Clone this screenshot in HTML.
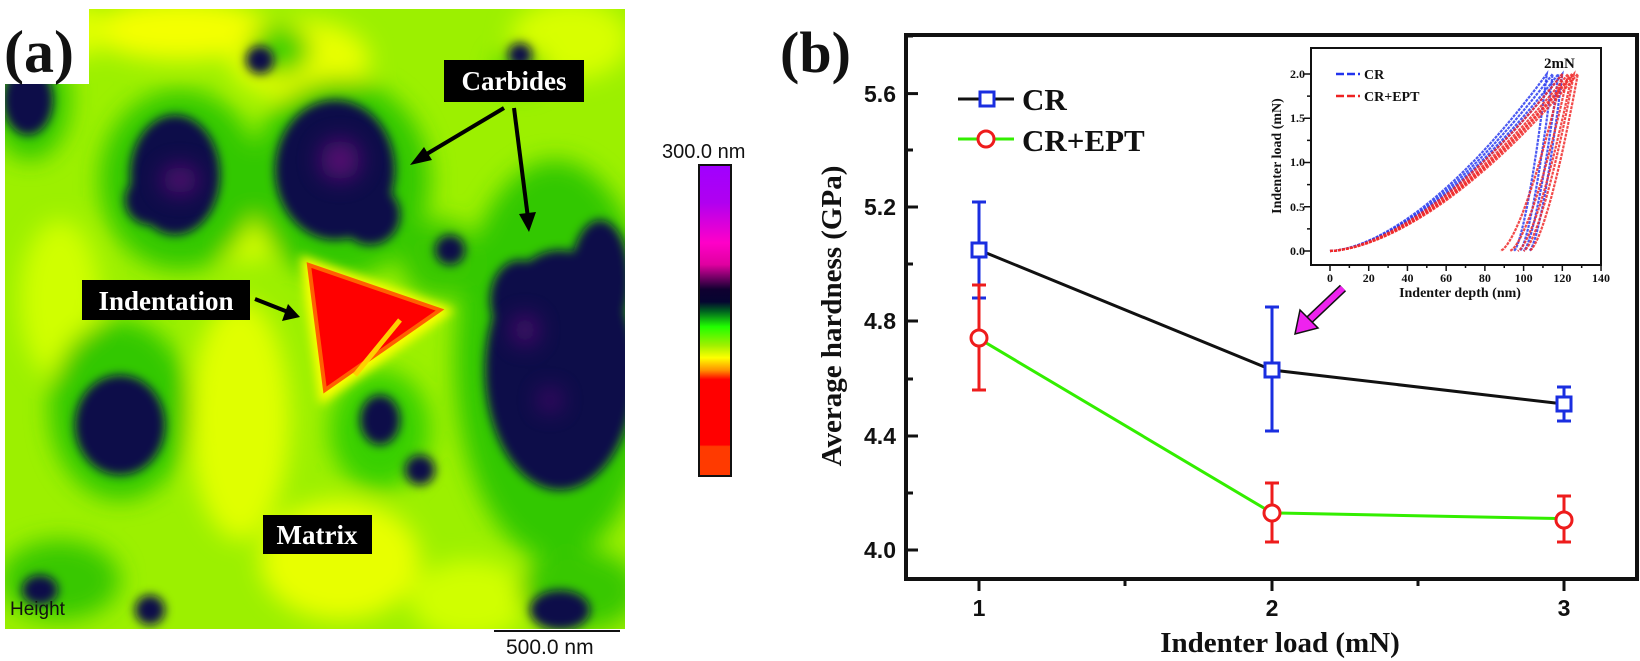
<!DOCTYPE html>
<html><head><meta charset="utf-8"><style>
html,body{margin:0;padding:0;background:#fff;}
svg{display:block;}
.tk{font-family:"Liberation Sans",sans-serif;font-weight:bold;font-size:23px;fill:#111;}
.itk{font-family:"Liberation Serif",serif;font-weight:bold;font-size:12px;fill:#111;}
.lbl{font-family:"Liberation Serif",serif;font-weight:bold;fill:#111;}
.box{font-family:"Liberation Serif",serif;font-weight:bold;font-size:27px;fill:#fff;}
</style></head><body>
<svg width="1640" height="661" viewBox="0 0 1640 661" xmlns="http://www.w3.org/2000/svg">
<defs>
<clipPath id="img"><rect x="5" y="9" width="620" height="620"/></clipPath>
<filter id="b12" x="-50%" y="-50%" width="200%" height="200%"><feGaussianBlur stdDeviation="12"/></filter>
<filter id="b5" x="-50%" y="-50%" width="200%" height="200%"><feGaussianBlur stdDeviation="5"/></filter>
<filter id="b3" x="-50%" y="-50%" width="200%" height="200%"><feGaussianBlur stdDeviation="3"/></filter>
<linearGradient id="cb" x1="0" y1="0" x2="0" y2="1">
<stop offset="0" stop-color="#a000ff"/><stop offset="0.12" stop-color="#b000f0"/>
<stop offset="0.25" stop-color="#ff00c8"/><stop offset="0.32" stop-color="#e000a0"/>
<stop offset="0.40" stop-color="#100030"/><stop offset="0.44" stop-color="#050530"/>
<stop offset="0.47" stop-color="#006020"/><stop offset="0.52" stop-color="#20ff00"/>
<stop offset="0.58" stop-color="#a0f000"/><stop offset="0.62" stop-color="#ffff00"/>
<stop offset="0.66" stop-color="#ff9000"/><stop offset="0.69" stop-color="#ff0000"/>
<stop offset="0.90" stop-color="#ff0000"/><stop offset="0.905" stop-color="#ff3a00"/>
<stop offset="1" stop-color="#ff3a00"/></linearGradient>
</defs>

<!-- AFM map -->
<g clip-path="url(#img)">
<rect x="5" y="9" width="620" height="620" fill="#9cf000"/>
<g filter="url(#b12)">
<ellipse cx="180" cy="30" rx="90" ry="30" fill="#f4ff00"/>
<ellipse cx="300" cy="60" rx="70" ry="40" fill="#e8ff00"/>
<ellipse cx="570" cy="40" rx="60" ry="40" fill="#d8ff00"/>
<ellipse cx="60" cy="300" rx="40" ry="80" fill="#d0ff00"/>
<ellipse cx="240" cy="420" rx="50" ry="120" fill="#e0ff00"/>
<ellipse cx="340" cy="560" rx="80" ry="60" fill="#e8ff00"/>
<ellipse cx="470" cy="600" rx="60" ry="40" fill="#d0ff00"/>
<ellipse cx="60" cy="30" rx="50" ry="30" fill="#e0ff00"/>
<ellipse cx="240" cy="230" rx="60" ry="30" fill="#d8ff00"/>
<ellipse cx="180" cy="180" rx="80" ry="90" fill="#30c800"/>
<ellipse cx="340" cy="180" rx="90" ry="100" fill="#30c800"/>
<ellipse cx="555" cy="360" rx="100" ry="200" fill="#30c800"/>
<ellipse cx="120" cy="410" rx="70" ry="90" fill="#30c800"/>
<ellipse cx="30" cy="100" rx="40" ry="60" fill="#30c800"/>
<ellipse cx="380" cy="430" rx="50" ry="60" fill="#38d000"/>
<ellipse cx="60" cy="580" rx="60" ry="40" fill="#38c800"/>
<ellipse cx="580" cy="590" rx="60" ry="40" fill="#38c800"/>
<ellipse cx="280" cy="50" rx="30" ry="25" fill="#40d000"/>
<ellipse cx="520" cy="70" rx="25" ry="20" fill="#40d000"/>
<ellipse cx="440" cy="260" rx="40" ry="40" fill="#38c800"/>
</g>
<polygon points="300,255 455,310 320,405" fill="#ffff00" filter="url(#b5)"/>
<g filter="url(#b5)" fill="#0c0c48">
<ellipse cx="28" cy="100" rx="25" ry="35"/>
<ellipse cx="175" cy="175" rx="45" ry="60"/>
<ellipse cx="150" cy="200" rx="25" ry="25"/>
<ellipse cx="335" cy="170" rx="60" ry="70"/>
<ellipse cx="370" cy="215" rx="30" ry="30"/>
<ellipse cx="560" cy="370" rx="75" ry="120"/>
<ellipse cx="520" cy="300" rx="30" ry="40"/>
<ellipse cx="600" cy="280" rx="30" ry="60"/>
<ellipse cx="120" cy="425" rx="45" ry="50"/>
<ellipse cx="115" cy="440" rx="25" ry="20"/>
<ellipse cx="260" cy="60" rx="14" ry="14"/>
<ellipse cx="520" cy="55" rx="12" ry="12"/>
<ellipse cx="380" cy="420" rx="20" ry="25"/>
<ellipse cx="420" cy="470" rx="15" ry="15"/>
<ellipse cx="150" cy="610" rx="15" ry="15"/>
<ellipse cx="40" cy="590" rx="18" ry="15"/>
<ellipse cx="560" cy="610" rx="30" ry="20"/>
<ellipse cx="450" cy="250" rx="15" ry="15"/>
</g>
<g filter="url(#b12)" fill="#701080" opacity="0.8">
<ellipse cx="180" cy="180" rx="18" ry="14"/>
<ellipse cx="340" cy="160" rx="20" ry="20"/>
<ellipse cx="525" cy="330" rx="12" ry="14"/>
<ellipse cx="550" cy="400" rx="10" ry="10"/>
</g>
<polygon points="309,265 440,310 325,390" fill="#ff0000" stroke="#ff6000" stroke-width="4"/>
<line x1="355" y1="375" x2="400" y2="320" stroke="#ffd000" stroke-width="5"/>
<rect x="0" y="0" width="89" height="84" fill="#fff"/>
</g>
<text x="4" y="72" class="lbl" font-size="60">(a)</text>
<text x="10" y="615" font-family="Liberation Sans,sans-serif" font-size="19" fill="#111">Height</text>
<line x1="494" y1="631" x2="620" y2="631" stroke="#111" stroke-width="2"/>
<text x="506" y="654" font-family="Liberation Sans,sans-serif" font-size="21" fill="#111">500.0 nm</text>
<rect x="444" y="60" width="140" height="42" fill="#000"/>
<text x="514" y="90" text-anchor="middle" class="box">Carbides</text>
<rect x="82" y="280" width="168" height="40" fill="#000"/>
<text x="166" y="310" text-anchor="middle" class="box">Indentation</text>
<rect x="263" y="515" width="109" height="39" fill="#000"/>
<text x="317" y="544" text-anchor="middle" class="box">Matrix</text>
<g stroke="#000" stroke-width="4" fill="#000">
<line x1="504" y1="108" x2="420" y2="158"/>
<polygon points="410,165 424,147 432,160" stroke="none"/>
<line x1="514" y1="108" x2="528" y2="218"/>
<polygon points="529,232 519,214 536,212" stroke="none"/>
<line x1="255" y1="299" x2="288" y2="312"/>
<polygon points="300,317 282,321 288,304" stroke="none"/>
</g>
<text x="662" y="158" font-family="Liberation Sans,sans-serif" font-size="20" fill="#111">300.0 nm</text>
<rect x="699" y="165" width="32" height="311" fill="url(#cb)" stroke="#111" stroke-width="2"/>

<!-- Panel b -->
<text x="780" y="72" class="lbl" font-size="58">(b)</text>
<rect x="906" y="35" width="731" height="544" fill="none" stroke="#111" stroke-width="4"/>
<g stroke="#111" stroke-width="3">
<line x1="906" y1="550" x2="918" y2="550"/><line x1="906" y1="436" x2="918" y2="436"/>
<line x1="906" y1="321" x2="918" y2="321"/><line x1="906" y1="207" x2="918" y2="207"/>
<line x1="906" y1="93.6" x2="918" y2="93.6"/>
<line x1="906" y1="493" x2="913" y2="493"/><line x1="906" y1="379" x2="913" y2="379"/>
<line x1="906" y1="264" x2="913" y2="264"/><line x1="906" y1="150" x2="913" y2="150"/>
<line x1="906" y1="36" x2="913" y2="36"/>
<line x1="979" y1="579" x2="979" y2="591"/><line x1="1272" y1="579" x2="1272" y2="591"/>
<line x1="1564" y1="579" x2="1564" y2="591"/>
<line x1="1125" y1="579" x2="1125" y2="586"/><line x1="1418" y1="579" x2="1418" y2="586"/>
</g>
<g class="tk" text-anchor="end">
<text x="896" y="558">4.0</text><text x="896" y="444">4.4</text>
<text x="896" y="329">4.8</text><text x="896" y="215">5.2</text>
<text x="896" y="102">5.6</text>
</g>
<g class="tk" text-anchor="middle">
<text x="979" y="616">1</text><text x="1272" y="616">2</text><text x="1564" y="616">3</text>
</g>
<text x="1280" y="652" text-anchor="middle" class="lbl" font-size="29">Indenter load (mN)</text>
<text transform="translate(841,316) rotate(-90)" text-anchor="middle" class="lbl" font-size="29">Average hardness (GPa)</text>

<polyline points="979,250 1272,370 1564,404" fill="none" stroke="#111" stroke-width="3"/>
<polyline points="979,338.7 1272,512.9 1564,518.6" fill="none" stroke="#33ee00" stroke-width="3"/>
<g stroke="#1a2ee0" stroke-width="3" fill="none">
<line x1="979" y1="202" x2="979" y2="298"/><line x1="972" y1="202" x2="986" y2="202"/><line x1="972" y1="298" x2="986" y2="298"/>
<line x1="1272" y1="307" x2="1272" y2="431"/><line x1="1265" y1="307" x2="1279" y2="307"/><line x1="1265" y1="431" x2="1279" y2="431"/>
<line x1="1564" y1="387" x2="1564" y2="421"/><line x1="1557" y1="387" x2="1571" y2="387"/><line x1="1557" y1="421" x2="1571" y2="421"/>
<rect x="972" y="243" width="14" height="14" fill="#fff"/>
<rect x="1265" y="363" width="14" height="14" fill="#fff"/>
<rect x="1557" y="397" width="14" height="14" fill="#fff"/>
</g>
<g stroke="#ee1c1c" stroke-width="3" fill="none">
<line x1="979" y1="285" x2="979" y2="390"/><line x1="972" y1="285" x2="986" y2="285"/><line x1="972" y1="390" x2="986" y2="390"/>
<line x1="1272" y1="483" x2="1272" y2="542"/><line x1="1265" y1="483" x2="1279" y2="483"/><line x1="1265" y1="542" x2="1279" y2="542"/>
<line x1="1564" y1="496" x2="1564" y2="542"/><line x1="1557" y1="496" x2="1571" y2="496"/><line x1="1557" y1="542" x2="1571" y2="542"/>
<circle cx="979" cy="338" r="8" fill="#fff"/>
<circle cx="1272" cy="513" r="8" fill="#fff"/>
<circle cx="1564" cy="520" r="8" fill="#fff"/>
</g>
<line x1="958" y1="99" x2="1014" y2="99" stroke="#111" stroke-width="3"/>
<rect x="980" y="92" width="14" height="14" fill="#fff" stroke="#1a2ee0" stroke-width="3"/>
<text x="1022" y="110" class="lbl" font-size="31">CR</text>
<line x1="958" y1="139" x2="1014" y2="139" stroke="#33ee00" stroke-width="3"/>
<circle cx="986" cy="139" r="8" fill="#fff" stroke="#ee1c1c" stroke-width="3"/>
<text x="1022" y="151" class="lbl" font-size="31">CR+EPT</text>

<!-- inset -->
<rect x="1311" y="48" width="290" height="217" fill="#fff" stroke="#111" stroke-width="2"/>
<g id="curves"></g>
<g stroke="#111" stroke-width="1.5" id="itks"></g>
<g class="itk" text-anchor="end">
<text x="1305" y="255">0.0</text><text x="1305" y="211">0.5</text>
<text x="1305" y="166">1.0</text><text x="1305" y="122">1.5</text>
<text x="1305" y="78">2.0</text>
</g>
<g class="itk" text-anchor="middle" id="ixl"></g>
<text x="1460" y="297" text-anchor="middle" class="lbl" font-size="14">Indenter depth (nm)</text>
<text transform="translate(1281,156) rotate(-90)" text-anchor="middle" class="lbl" font-size="14">Indenter load (mN)</text>
<line x1="1336" y1="74" x2="1360" y2="74" stroke="#2233ee" stroke-width="2.5" stroke-dasharray="8 3"/>
<text x="1364" y="79" class="lbl" font-size="14">CR</text>
<line x1="1336" y1="96" x2="1360" y2="96" stroke="#ee2222" stroke-width="2.5" stroke-dasharray="8 3"/>
<text x="1364" y="101" class="lbl" font-size="14">CR+EPT</text>
<text x="1544" y="68" class="lbl" font-size="15">2mN</text>
<line x1="1343" y1="288" x2="1306" y2="323" stroke="#111" stroke-width="9"/>
<line x1="1343" y1="288" x2="1306" y2="323" stroke="#ee22ee" stroke-width="6"/>
<polygon points="1295,334 1300,310 1318,328" fill="#ee22ee" stroke="#111" stroke-width="1.5"/>
</svg>
<script>
(function(){
var ns="http://www.w3.org/2000/svg";
function X(d){return 1330+d*1.936;}
function Y(l){return 251-l*88.5;}
var g=document.getElementById("curves");
function curve(dm,hr,col){
 var p=[];
 for(var i=0;i<=40;i++){var d=dm*i/40;p.push(X(d).toFixed(1)+","+Y(2*Math.pow(d/dm,1.65)).toFixed(1));}
 for(var i=0;i<=20;i++){var d=dm-(dm-hr)*i/20;p.push(X(d).toFixed(1)+","+Y(2*Math.pow((d-hr)/(dm-hr),1.5)).toFixed(1));}
 var e=document.createElementNS(ns,"polyline");
 e.setAttribute("points",p.join(" "));e.setAttribute("fill","none");e.setAttribute("stroke",col);
 e.setAttribute("stroke-width","2.2");e.setAttribute("stroke-dasharray","3 1");e.setAttribute("opacity","0.85");
 g.appendChild(e);
}
[[112,95],[115,98],[118,100],[120,103]].forEach(function(a){curve(a[0],a[1],"#2a3cf0");});
[[120,88],[123,93],[125,97],[128,103],[126,100]].forEach(function(a){curve(a[0],a[1],"#f02a2a");});
var t=document.getElementById("itks"),xl=document.getElementById("ixl");
for(var d=0;d<=140;d+=10){var l=document.createElementNS(ns,"line");l.setAttribute("x1",X(d));l.setAttribute("x2",X(d));l.setAttribute("y1",265);l.setAttribute("y2",d%20?268:271);t.appendChild(l);
 if(d%20==0){var tx=document.createElementNS(ns,"text");tx.setAttribute("x",X(d));tx.setAttribute("y",282);tx.textContent=d;xl.appendChild(tx);}}
for(var v=0;v<=2;v+=0.25){var l=document.createElementNS(ns,"line");l.setAttribute("x1",1311);l.setAttribute("x2",(v*4)%2?1307:1304);l.setAttribute("y1",Y(v));l.setAttribute("y2",Y(v));t.appendChild(l);}
})();
</script>
</body></html>
